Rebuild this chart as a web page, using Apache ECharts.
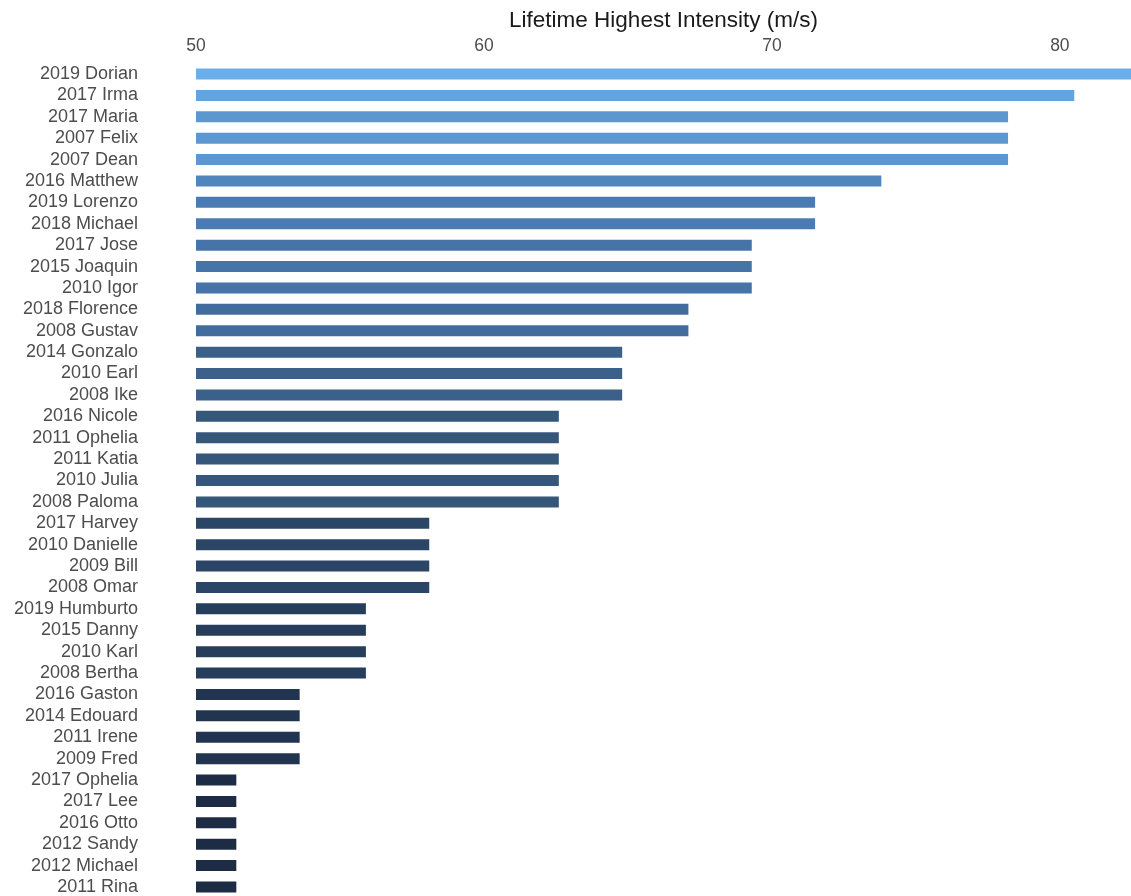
<!DOCTYPE html>
<html>
<head>
<meta charset="utf-8">
<script src="https://cdn.jsdelivr.net/npm/echarts@6/dist/echarts.min.js"></script>
<style>html,body{margin:0;padding:0;background:#fff;overflow:hidden;}#c{width:1131px;height:900px;}</style>
</head>
<body>
<div id="c"></div>
<script>
const storms = ["2019 Dorian","2017 Irma","2017 Maria","2007 Felix","2007 Dean","2016 Matthew","2019 Lorenzo","2018 Michael","2017 Jose","2015 Joaquin","2010 Igor","2018 Florence","2008 Gustav","2014 Gonzalo","2010 Earl","2008 Ike","2016 Nicole","2011 Ophelia","2011 Katia","2010 Julia","2008 Paloma","2017 Harvey","2010 Danielle","2009 Bill","2008 Omar","2019 Humburto","2015 Danny","2010 Karl","2008 Bertha","2016 Gaston","2014 Edouard","2011 Irene","2009 Fred","2017 Ophelia","2017 Lee","2016 Otto","2012 Sandy","2012 Michael","2011 Rina"];
const intensity = [82.7,80.5,78.2,78.2,78.2,73.8,71.5,71.5,69.3,69.3,69.3,67.1,67.1,64.8,64.8,64.8,62.6,62.6,62.6,62.6,62.6,58.1,58.1,58.1,58.1,55.9,55.9,55.9,55.9,53.6,53.6,53.6,53.6,51.4,51.4,51.4,51.4,51.4,51.4];
const xTicks = [50,60,70,80];

// colour ramp (value -> colour) sampled from the reference gradient
const rampValues = [51.4, 58.1, 62.6, 67.1, 71.5, 78.2, 82.7];
const rampColors = ['#1c2c45','#2b4566','#355779','#426c9d','#4a7cb3','#5c97d2','#6aaeea'];
function hex2rgb(h){return [parseInt(h.slice(1,3),16),parseInt(h.slice(3,5),16),parseInt(h.slice(5,7),16)];}
function colorFor(v){
  if(v<=rampValues[0]) return rampColors[0];
  for(let i=1;i<rampValues.length;i++){
    if(v<=rampValues[i]){
      const t=(v-rampValues[i-1])/(rampValues[i]-rampValues[i-1]);
      const a=hex2rgb(rampColors[i-1]),b=hex2rgb(rampColors[i]);
      return 'rgb('+a.map((c,k)=>Math.round(c+(b[k]-c)*t)).join(',')+')';
    }
  }
  return rampColors[rampColors.length-1];
}

const chart = echarts.init(document.getElementById('c'));
chart.setOption({
  animation:false,
  grid:{left:196,right:0,top:63.3,bottom:2.3,containLabel:false},
  xAxis:{
    type:'value',position:'top',min:50,max:82.47,interval:10,
    name:'Lifetime Highest Intensity (m/s)',nameLocation:'middle',nameGap:31,
    nameTextStyle:{fontSize:22.5,color:'#1a1a1a',fontFamily:'Liberation Sans'},
    axisLine:{show:false},axisTick:{show:false},splitLine:{show:false},
    axisLabel:{fontSize:17.5,color:'#4d4d4d',fontFamily:'Liberation Sans',margin:8,showMaxLabel:false,
      formatter:v=>xTicks.includes(v)?String(v):''}
  },
  yAxis:{
    type:'category',data:storms,inverse:true,
    axisLine:{show:false},axisTick:{show:false},splitLine:{show:false},
    axisLabel:{interval:0,fontSize:18,color:'#4d4d4d',fontFamily:'Liberation Sans',margin:58,hideOverlap:false}
  },
  series:[{
    type:'bar',data:intensity,barWidth:11,clip:true,
    itemStyle:{color:p=>colorFor(p.value)}
  }]
});
</script>
</body>
</html>
